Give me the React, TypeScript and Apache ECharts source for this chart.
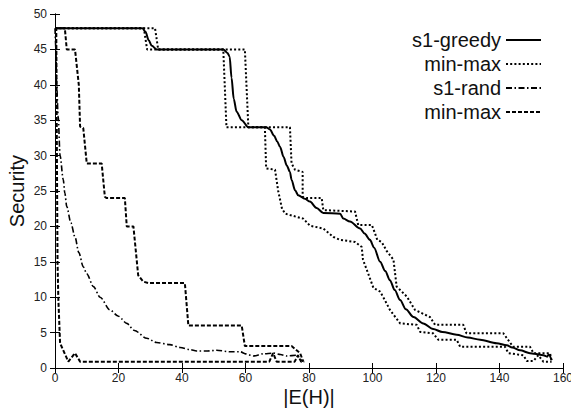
import React, { useEffect, useRef } from "react";
import * as echarts from "echarts";

const xMin = 0;
const xMax = 160;
const xStep = 20;
const yMin = 0;
const yMax = 50;
const yStep = 5;

const legendLabels = ["s1-greedy", "min-max", "s1-rand", "min-max"];

const s1Greedy = [
  [0, 48], [27.5, 48], [28.5, 47.5], [29.5, 46.3], [30.5, 45.5], [32, 45], [53, 45], [54.3, 44.5],
  [55, 44], [55.6, 41], [56.3, 38], [57.2, 36.2], [58.8, 35], [60.9, 34], [66.5, 34], [67.7, 33.7],
  [69, 32.8], [70, 32], [70.9, 31.2], [72, 29.8], [73, 28.6], [74, 27.7], [74.5, 26.6], [75.6, 25.1],
  [76.6, 24.4], [78.7, 23.9], [80.3, 23.5], [82.4, 22.6], [84.5, 21.9], [89.8, 21.8], [90.8, 21.1],
  [92.9, 20.7], [96.1, 19.7], [97.5, 19], [99.2, 18.1], [100.5, 17], [102.4, 15], [104, 13.7],
  [105.5, 12.4], [107, 11], [108.7, 9.6], [110.5, 8.3], [112.9, 7.2], [116, 6.3], [119.1, 5.5],
  [122, 5.1], [126.5, 4.7], [130, 4.3], [133.9, 4.0], [139.1, 3.5], [142.3, 3.2], [144, 2.9],
  [146.5, 2.5], [149.6, 2.1], [151, 2.0], [153.8, 1.8], [155, 1.6], [155.5, 1.9], [156.4, 1.1],
];

const mmGreedyUpper = [
  [0, 48], [31.5, 48], [32.5, 45], [59.8, 45], [60.9, 34], [74, 34], [74.5, 28.9], [75.6, 28],
  [78, 27.7], [78, 24.2], [79.3, 24], [84, 24], [84.5, 22.3], [94.5, 22.1], [95.5, 20.2], [99.8, 20.2],
  [100.8, 19], [101.5, 18.1], [102.9, 17.8], [104.5, 16.5], [106.6, 15.3], [107.6, 11.5],
  [110.8, 10.1], [113.4, 8.2], [118.1, 7.2], [119.7, 6.1], [128.6, 6.1], [129.6, 4.9], [141.2, 4.9],
  [144.3, 3.0], [149.6, 3.0], [150.7, 2.1], [155.9, 2.1], [156.4, 1.1],
];

const mmGreedyLower = [
  [0, 48], [28, 48], [29, 45], [53, 45], [54, 34], [66.1, 34], [66.5, 28.2], [69.3, 28], [70.3, 25],
  [71.5, 22.5], [72.5, 21.8], [74, 21.6], [78.2, 21.1], [80.3, 20.1], [84.5, 19.7], [87.7, 18.5],
  [89.8, 18.1], [94.5, 17.8], [96.6, 17.1], [97, 15.3], [98.5, 13.5], [100.3, 11.3], [102.4, 10.8],
  [104, 9.5], [105.5, 8.2], [108.7, 6.3], [113.9, 6.1], [115, 5.1], [119.1, 4.9], [120.7, 4.0],
  [126.5, 4.0], [127.6, 3.0], [141.7, 3.0], [142.8, 2.1], [147.5, 1.8], [148.6, 1.0], [150.7, 1.0],
  [152.2, 1.8], [153.8, 0.9], [156.4, 0.9],
];

const s1Rand = [
  [0, 48], [0.3, 45], [0.5, 40.2], [1.0, 35.5], [1.6, 30], [2.6, 26.6], [3.1, 24.7], [3.7, 22.8],
  [5, 20.5], [6.3, 18.5], [7.5, 16.3], [8.9, 14.3], [10, 13.3], [12.1, 11.5], [14.2, 10], [17.3, 8.2],
  [20, 7.3], [22.6, 6.3], [25, 5.3], [28.9, 4.2], [32, 3.6], [36.2, 3.3], [39.4, 2.9], [42.5, 2.6],
  [44.6, 2.4], [48, 2.4], [50.9, 2.5], [55.1, 2.3], [58.3, 2.3], [60, 2.0], [62.5, 1.7], [65.6, 2.0],
  [68.8, 2.1], [71, 1.9], [73, 1.7], [76.1, 1.8], [77.7, 1.1], [78.1, 0.9],
];

const mmRandUpper = [
  [0, 48], [3.1, 48], [3.7, 45], [6.3, 45], [7.5, 40], [7.9, 34.1], [8.9, 33.9], [10, 28.9],
  [14.7, 28.9], [15.7, 24.2], [16.2, 24], [22, 24], [22.6, 20], [24.7, 20], [26.2, 13.1],
  [27.8, 12.2], [29.4, 12], [40.9, 12], [42, 6], [58.8, 6], [59.8, 3.1], [74.5, 3.1], [77.2, 2.1],
  [78.2, 0.9],
];

const mmRandLower = [
  [0, 48], [0.4, 48], [0.6, 30], [0.8, 15], [1.05, 9.8], [1.6, 3.5], [2.1, 3.0], [4.2, 0.9],
  [6.3, 2.1], [7.9, 0.9], [67.5, 0.9], [68.7, 2.1], [69.8, 0.9], [75.5, 0.9], [76.5, 1.8],
  [77.5, 0.9], [78.5, 0.9],
];

const FONT = "'Liberation Sans', Arial, Helvetica, sans-serif";

export default function App() {
  const ref = useRef<HTMLDivElement>(null);

  useEffect(() => {
    if (!ref.current) return;
    const chart = echarts.init(ref.current, undefined, { renderer: "svg" });

    const axisLine = { show: true, lineStyle: { color: "#000", width: 1 } };
    const tick = { show: true, inside: true, length: 5, lineStyle: { color: "#000", width: 1 } };
    const label = { color: "#222", fontSize: 12, fontFamily: FONT };

    const greedyStyle = { color: "#000", width: 2, type: "solid" as const };
    const mmGreedyStyle = { color: "#000", width: 2, type: [2, 2.2], cap: "butt" };
    const randStyle = { color: "#000", width: 1.6, type: [6, 2.5, 1.5, 2.5], cap: "butt" };
    const mmRandStyle = { color: "#000", width: 2, type: [4, 2], cap: "butt" };

    const names = ["s1-greedy", "mm-greedy", "s1-rand", "mm-rand"];

    const line = (name: string, data: number[][], style: any, smooth: any = false) => ({
      type: "line",
      name,
      data,
      symbol: "none",
      showSymbol: false,
      smooth,
      smoothMonotone: "x",
      lineStyle: style,
      itemStyle: { color: "#000" },
      xAxisIndex: 0,
      yAxisIndex: 0,
      z: 3,
    });

    chart.setOption({
      animation: false,
      backgroundColor: "#fff",
      grid: { left: 55, right: 8, top: 14, bottom: 40, containLabel: false, outerBoundsMode: "none" },
      legend: {
        show: true,
        data: names,
        orient: "vertical",
        align: "right",
        right: 24,
        top: 25,
        itemWidth: 35,
        itemHeight: 14,
        itemGap: 4,
        selectedMode: false,
        itemStyle: { opacity: 0 },
        formatter: (n: string) => legendLabels[names.indexOf(n)],
        textStyle: { fontSize: 20, fontFamily: FONT, color: "#111" },
      },
      xAxis: [
        {
          type: "value",
          min: xMin,
          max: xMax,
          interval: xStep,
          position: "bottom",
          name: "|E(H)|",
          nameLocation: "middle",
          nameGap: 19,
          nameMoveOverlap: false,
          nameTextStyle: { fontSize: 20, fontFamily: FONT, color: "#111" },
          axisLine,
          axisTick: tick,
          axisLabel: { ...label, margin: 4 },
          splitLine: { show: false },
        },
        {
          type: "value",
          min: xMin,
          max: xMax,
          interval: xStep,
          position: "top",
          axisLine,
          axisTick: tick,
          axisLabel: { show: false },
          splitLine: { show: false },
        },
      ],
      yAxis: [
        {
          type: "value",
          min: yMin,
          max: yMax,
          interval: yStep,
          position: "left",
          name: "Security",
          nameLocation: "middle",
          nameGap: 28,
          nameMoveOverlap: false,
          nameTextStyle: { fontSize: 20, fontFamily: FONT, color: "#111" },
          axisLine,
          axisTick: tick,
          axisLabel: { ...label, margin: 8 },
          splitLine: { show: false },
        },
        {
          type: "value",
          min: yMin,
          max: yMax,
          interval: yStep,
          position: "right",
          axisLine,
          axisTick: tick,
          axisLabel: { show: false },
          splitLine: { show: false },
        },
      ],
      series: [
        line("s1-greedy", s1Greedy, greedyStyle, 0.3),
        line("mm-greedy", mmGreedyUpper, mmGreedyStyle),
        line("mm-greedy-low", mmGreedyLower, mmGreedyStyle),
        line("s1-rand", s1Rand, randStyle, 0.3),
        line("mm-rand", mmRandUpper, mmRandStyle),
        line("mm-rand-low", mmRandLower, mmRandStyle),
      ],
    });

    return () => chart.dispose();
  }, []);

  return (
    <div
      ref={ref}
      style={{ position: "absolute", left: 0, top: 0, width: 571, height: 408 }}
    />
  );
}
